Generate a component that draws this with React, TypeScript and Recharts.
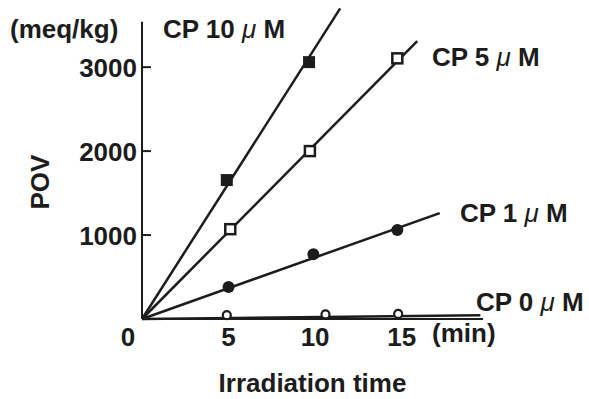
import { ComposedChart, Line, Scatter, XAxis, YAxis, ReferenceLine, Label } from 'recharts';

const FONT = '"Liberation Sans", Arial, sans-serif';
const INK = '#1c1c1c';

// measured points (time in min, POV in meq/kg)
const T10 = [4.9, 9.65];
const V10 = [1655, 3060];
const T5 = [5.1, 9.7, 14.75];
const V5 = [1070, 2000, 3105];
const T1 = [5.0, 9.9, 14.75];
const V1 = [380, 770, 1060];
const T0 = [4.9, 10.6, 14.8];
const V0 = [45, 55, 60];

// fitted lines from origin: cp10, cp5, cp1, cp0
const FIT_T = [11.45, 15.9, 17.2, 19.55];
const FIT_V = [3700, 3310, 1262, 45];

const X_TICKS = [0, 5, 10, 15];
const Y_TICKS = [1000, 2000, 3000];

const pts = (ts: number[], vs: number[]) => ts.map((t, i) => ({ t, v: vs[i] }));
const fit = (i: number) => [{ t: 0, v: 0 }, { t: FIT_T[i], v: FIT_V[i] }];

const txt = { fontFamily: FONT, fontWeight: 700, fontSize: 26, fill: INK };

const YTick = (p: any) => (
  <g>
    <line x1={p.x} x2={p.x + 9} y1={p.y} y2={p.y} stroke={INK} strokeWidth={2} />
    <text x={p.x - 5} y={p.y + 10} textAnchor="end" {...txt}>{p.payload.value}</text>
  </g>
);

const XTick = (p: any) => (
  <text x={p.payload.value === 0 ? p.x - 14 : p.x} y={p.y + 27} textAnchor="middle" {...txt}>
    {p.payload.value}
  </text>
);

const filledSquare = (p: any) => <rect x={p.cx - 6} y={p.cy - 6} width={12} height={12} fill={INK} />;
const openSquare = (p: any) => <rect x={p.cx - 5} y={p.cy - 5} width={10} height={10} fill="#fff" stroke={INK} strokeWidth={2.5} />;
const filledCircle = (p: any) => <circle cx={p.cx} cy={p.cy} r={6} fill={INK} />;
const openCircle = (p: any) => <circle cx={p.cx} cy={p.cy} r={4} fill="#fff" stroke={INK} strokeWidth={2.2} />;

export default function App() {
  return (
    <div style={{ position: 'absolute', left: 0, top: 0, width: 589, height: 399, background: '#fff' }}>
      <ComposedChart width={589} height={399} margin={{ top: 0, right: 106, left: 0, bottom: 0 }}>
        <XAxis
          type="number" dataKey="t" domain={[0, 19.7]} ticks={X_TICKS}
          height={80} tickSize={0} tickMargin={0} tickLine={false}
          axisLine={{ stroke: INK, strokeWidth: 2 }} tick={XTick}
        >
          <Label value="Irradiation time" position="insideBottom" offset={7} style={txt} />
        </XAxis>
        <YAxis
          type="number" dataKey="v" domain={[0, 3800]} ticks={Y_TICKS}
          width={142} tickSize={0} tickMargin={0} tickLine={false} axisLine={false} tick={YTick}
        />
        <ReferenceLine segment={[{ x: 0, y: 0 }, { x: 0, y: 3540 }]} stroke={INK} strokeWidth={2} />
        {[0, 1, 2, 3].map(i => (
          <Line key={i} data={fit(i)} dataKey="v" stroke={INK} strokeWidth={2.5} dot={false} isAnimationActive={false} />
        ))}
        <Scatter data={pts(T10, V10)} dataKey="v" shape={filledSquare} isAnimationActive={false} />
        <Scatter data={pts(T5, V5)} dataKey="v" shape={openSquare} isAnimationActive={false} />
        <Scatter data={pts(T1, V1)} dataKey="v" shape={filledCircle} isAnimationActive={false} />
        <Scatter data={pts(T0, V0)} dataKey="v" shape={openCircle} isAnimationActive={false} />
      </ComposedChart>
      <svg width={589} height={399} style={{ position: 'absolute', left: 0, top: 0, pointerEvents: 'none' }}>
        <text x={10} y={38} {...txt}>(meq/kg)</text>
        <text x={163} y={38} {...txt}>CP 10 <tspan fontWeight={400} fontStyle="italic">μ</tspan> M</text>
        <text x={432} y={66} {...txt}>CP 5 <tspan fontWeight={400} fontStyle="italic">μ</tspan> M</text>
        <text x={460} y={222} {...txt}>CP 1 <tspan fontWeight={400} fontStyle="italic">μ</tspan> M</text>
        <text x={476} y={311} {...txt}>CP 0 <tspan fontWeight={400} fontStyle="italic">μ</tspan> M</text>
        <text x={432} y={342} {...txt}>(min)</text>
        <text x={49} y={182} textAnchor="middle" transform="rotate(-90 49 182)" {...txt}>POV</text>
      </svg>
    </div>
  );
}
